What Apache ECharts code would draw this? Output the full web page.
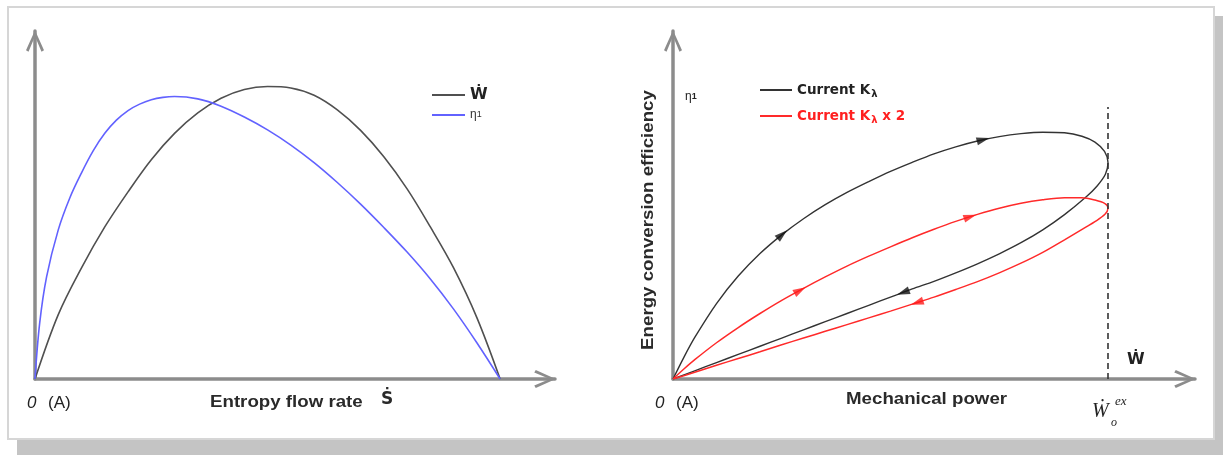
<!DOCTYPE html>
<html><head><meta charset="utf-8">
<script src="https://cdn.jsdelivr.net/npm/echarts@6/dist/echarts.min.js"></script>
<style>html,body{margin:0;padding:0;background:#fff;}#c{width:1223px;height:455px;}</style>
</head><body><div id="c"></div>
<script>
// ---------- Left panel: curves vs entropy flow rate (arbitrary units) ----------
const powerCurve = [[0,0],[5,22],[10,38],[15,52],[20,64],[25,75],[30,84],[35,91],[40,96],[45,99],[50,100],[55,99.5],[60,97],[65,92],[70,85],[75,76],[80,65],[85,52],[90,38],[95,21],[100,0]];
const efficiencyCurve = [[0,0],[1,19],[2.5,35],[5,51],[7.5,62],[10,70.5],[12.5,78],[15,84],[17.5,88.5],[20,91.8],[22.5,94],[25,95.5],[27.5,96.3],[30,96.6],[35,95.8],[40,93.3],[45,89.6],[50,85.2],[55,80],[60,74],[65,67.2],[70,59.8],[75,51.8],[80,43.4],[85,34.2],[90,23.9],[95,12.4],[100,0]];
const leftNames = ['Ẇ', 'η1'];

// ---------- Right panel: efficiency vs mechanical power loops ----------
const loopK = [[0,0],[2.5,7.4],[5,14.2],[10,25.8],[15,35.2],[20,42.9],[25,49.3],[30,54.8],[35,59.6],[40,63.8],[45,67.5],[50,71],[55,74.1],[60,77],[65,79.4],[70,81.4],[75,82.9],[80,83.9],[85,84.4],[90,84.2],[94,83],[97,81],[99.2,77.8],[100,74],
  [99.4,70],[97.5,66],[95,62.3],[90,56.2],[85,51],[80,46.6],[75,42.8],[70,39.4],[65,36.3],[60,33.4],[55,30.8],[50,28],[45,25.2],[40,22.4],[35,19.6],[30,16.8],[25,14],[20,11.2],[15,8.4],[10,5.6],[5,2.8],[0,0]];
const loopK2 = [[0,0],[2.5,3.4],[5,6.6],[10,12.4],[15,17.6],[20,22.4],[25,26.9],[30,31],[35,34.9],[40,38.6],[45,42],[50,45.2],[55,48.3],[60,51.2],[65,53.9],[70,56.3],[75,58.4],[80,60.1],[85,61.3],[90,62],[94,62],[97,61.2],[99.3,60],[100,58.5],
  [99.3,56.3],[97,53.8],[95,52],[90,47.6],[85,43.3],[80,39.6],[75,36.3],[70,33.3],[65,30.6],[60,28],[55,25.6],[50,23.2],[45,20.9],[40,18.6],[35,16.3],[30,14],[25,11.7],[20,9.3],[15,7],[10,4.7],[5,2.3],[0,0]];
const arrowsK = [[25.1,49.4],[71.3,81.8],[52.9,29.6]];
const arrowsK2 = [[29.2,30.3],[68.3,55.5],[56.1,26.1]];
const criticalPower = [[100,0],[100,93]];
const rightNames = ['Current Kλ', 'Current Kλ x 2'];

// styles
const arrowRotK = [-49, -75, 110];
const arrowRotK2 = [-61, -72, 108];
const AX = '#8c8c8c';
const chevron = 'path://M9,0 L18,20 L15.5,21.5 L9,6 L2.5,21.5 L0,20 Z';
const SANS = '"Liberation Sans", Arial, sans-serif';
const DJ = '"DejaVu Sans", sans-serif';
const NARROW = '"Liberation Sans Narrow", "Liberation Sans", sans-serif';

function axis(gi, max) {
  return {
    type: 'value', gridIndex: gi, min: 0, max: max,
    axisLine: { show: true, onZero: false, lineStyle: { color: AX, width: 3.5 },
      symbol: ['none', chevron], symbolSize: [18, 21.5], symbolOffset: [0, -10] },
    axisTick: { show: false }, axisLabel: { show: false }, splitLine: { show: false }
  };
}

const chart = echarts.init(document.getElementById('c'), null, { renderer: 'canvas' });

function txt(x, y, text, font, fill, extra) {
  return Object.assign({ type: 'text', x: x, y: y, z: 50,
    style: { text: text, font: font, fill: fill || '#222', verticalAlign: 'middle', align: 'left' } }, extra || {});
}

chart.setOption({
  animation: false,
  backgroundColor: '#ffffff',
  grid: [
    { left: 35, top: 31, width: 520, height: 348 },
    { left: 673, top: 31, width: 522, height: 348 }
  ],
  xAxis: [axis(0, 111.8), axis(1, 120)],
  yAxis: [axis(0, 119), axis(1, 119)],
  legend: [
    { data: leftNames, left: 427, top: 80, orient: 'vertical', icon: 'rect', itemWidth: 33, itemHeight: 2, itemGap: 0,
      selectedMode: false,
      formatter: n => n === 'η1' ? '{g|η}{s|1}' : '{w|Ẇ}',
      textStyle: { lineHeight: 20, color: '#222', rich: {
        w: { fontFamily: DJ, fontWeight: 'bold', fontSize: 16, color: '#222' },
        g: { fontFamily: SANS, fontSize: 12, color: '#333' },
        s: { fontFamily: SANS, fontSize: 9, color: '#333' } } } },
    { data: rightNames, left: 755, top: 72, orient: 'vertical', icon: 'rect', itemWidth: 32, itemHeight: 2, itemGap: 0,
      selectedMode: false,
      formatter: n => n === 'Current Kλ' ? '{t|Current K}{l|λ}' : '{r|Current K}{rl|λ}{r| x 2}',
      textStyle: { lineHeight: 26, rich: {
        t: { fontFamily: DJ, fontWeight: 'bold', fontSize: 13.5, color: '#222' },
        l: { fontFamily: DJ, fontWeight: 'bold', fontSize: 10, color: '#222', padding: [9, 0, 0, 1] },
        r: { fontFamily: DJ, fontWeight: 'bold', fontSize: 13.5, color: '#ff2020' },
        rl: { fontFamily: DJ, fontWeight: 'bold', fontSize: 10, color: '#ff2020', padding: [9, 0, 0, 1] } } } }
  ],
  graphic: [
    { type: 'rect', z: -20, shape: { x: 17, y: 16, width: 1212, height: 445 }, style: { fill: '#c4c4c4' } },
    { type: 'rect', z: -19, shape: { x: 8, y: 7, width: 1206, height: 432 }, style: { fill: '#ffffff', stroke: '#d6d6d6', lineWidth: 2 } },
    // left panel texts
    txt(27, 403, '0', 'italic 17px ' + NARROW),
    txt(48, 403, '(A)', '17px ' + NARROW),
    txt(210, 402, 'Entropy flow rate', 'bold 17px ' + SANS, '#2a2a2a', { scaleX: 1.1 }),
    txt(381, 400, 'Ṡ', 'bold 17px ' + DJ, '#2a2a2a'),
    // right panel texts
    txt(655, 403, '0', 'italic 17px ' + NARROW),
    txt(676, 403, '(A)', '17px ' + NARROW),
    txt(846, 399, 'Mechanical power', 'bold 17px ' + SANS, '#2a2a2a', { scaleX: 1.1 }),
    txt(1127, 360, 'Ẇ', 'bold 16px ' + DJ, '#222'),
    txt(1092, 412, 'Ẇ', 'italic 20px "Liberation Serif", serif', '#222'),
    txt(1115, 402, 'ex', 'italic 13px "Liberation Serif", serif', '#222'),
    txt(1111, 423, 'o', 'italic 12px "Liberation Serif", serif', '#222'),
    { type: 'text', x: 685, y: 97, z: 50, style: { text: '{g|η}{s|1}', verticalAlign: 'middle', align: 'left',
        rich: { g: { font: '12px ' + SANS, fill: '#222' }, s: { font: 'bold 9px ' + SANS, fill: '#222' } } } },
    { type: 'text', x: 648, y: 220, z: 50, rotation: Math.PI / 2, scaleX: 1.1,
      style: { text: 'Energy conversion efficiency', font: 'bold 17px ' + SANS, fill: '#2a2a2a', align: 'center', verticalAlign: 'middle' } }
  ],
  series: [
    { type: 'line', name: leftNames[0], xAxisIndex: 0, yAxisIndex: 0, data: powerCurve, smooth: 0.35, showSymbol: false,
      color: '#505050', lineStyle: { width: 1.6, color: '#505050' } },
    { type: 'line', name: leftNames[1], xAxisIndex: 0, yAxisIndex: 0, data: efficiencyCurve, smooth: 0.35, showSymbol: false,
      color: '#6262ff', lineStyle: { width: 1.6, color: '#6262ff' } },
    { type: 'line', name: rightNames[0], xAxisIndex: 1, yAxisIndex: 1, data: loopK, smooth: 0.3, showSymbol: false,
      color: '#333333', lineStyle: { width: 1.4, color: '#333333' } },
    { type: 'line', name: rightNames[1], xAxisIndex: 1, yAxisIndex: 1, data: loopK2, smooth: 0.3, showSymbol: false,
      color: '#ff2a2a', lineStyle: { width: 1.5, color: '#ff2a2a' } },
    { type: 'scatter', xAxisIndex: 1, yAxisIndex: 1, symbol: 'triangle', symbolSize: [8, 13], z: 5,
      itemStyle: { color: '#111' }, data: arrowsK.map((p, i) => ({ value: p, symbolRotate: arrowRotK[i] })) },
    { type: 'scatter', xAxisIndex: 1, yAxisIndex: 1, symbol: 'triangle', symbolSize: [8, 13], z: 5,
      itemStyle: { color: '#ff1a1a' }, data: arrowsK2.map((p, i) => ({ value: p, symbolRotate: arrowRotK2[i] })) },
    { type: 'line', xAxisIndex: 1, yAxisIndex: 1, data: criticalPower, showSymbol: false, symbol: 'none',
      lineStyle: { color: '#333', width: 1.6, type: [6, 4] } }
  ]
});
</script></body></html>
